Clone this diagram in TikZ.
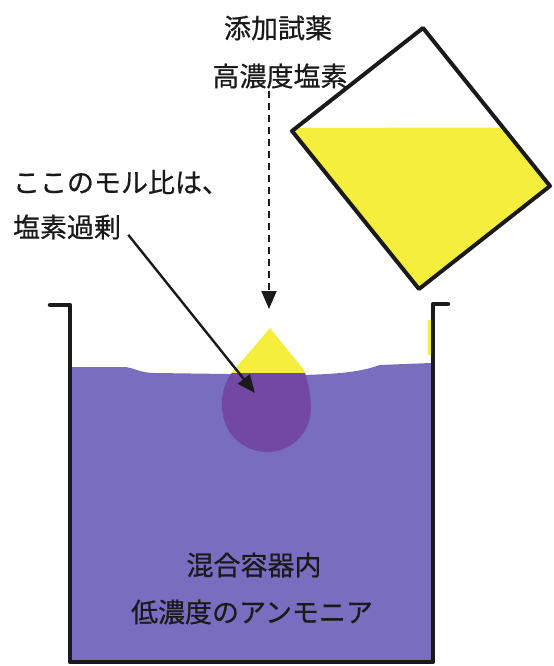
\documentclass[tikz,border=0pt]{standalone}
\usepackage{fontspec}
\setmainfont{Noto Sans CJK JP}[FakeBold=0.6]
\usetikzlibrary{arrows.meta, calc}
\definecolor{cliquid}{HTML}{796DC0}
\definecolor{cdrop}{HTML}{7348A5}
\definecolor{cyellow}{HTML}{F5EE3C}
\definecolor{cink}{HTML}{1A1A1A}
\tikzset{
  every picture/.style={line width=2pt, line join=round},
  label/.style={font=\fontsize{27bp}{32bp}\selectfont, text=cink, inner sep=0pt},
  wall/.style={draw=cink, line width=4.5pt, line cap=round},
  bottle/.style={draw=cink, line width=4pt},
  arrow/.style={-{Triangle[length=18bp, width=15bp]}, draw=cink, line width=2.4pt},
  dasharrow/.style={arrow, dashed, dash pattern=on 7bp off 5bp, line width=2pt},
}

\begin{document}
\begin{tikzpicture}[x=1bp, y=-1bp]
  \useasboundingbox (0,0) rectangle (554,666);
  % reagent bottle, tilted
  \coordinate (btop)   at (423,28);
  \coordinate (bleft)  at (292,131);
  \coordinate (bright) at (550,186);
  \coordinate (bbot)   at (419,289);
  \fill[cyellow] ($(btop)!0.97!(bleft)$) -- (bleft) -- (bbot) -- (bright)
    -- ($(btop)!0.63!(bright)$) -- cycle;
  \draw[bottle] (btop) -- (bleft) -- (bbot) -- (bright) -- cycle;
  % liquid in the vessel
  \fill[cliquid] (72,367) -- (125,367) .. controls (135,368) and (140,373) .. (155,373)
    -- (300,375) .. controls (350,374) and (365,370) .. (380,365)
    -- (431,363) -- (431,660) -- (72,660) -- cycle;
  % drop of chlorine sinking in
  \begin{scope}
    \clip (270,328) -- (234,370) .. controls (224,382) and (221,395) .. (222,408)
      .. controls (224,440) and (250,453) .. (270,452)
      .. controls (295,450) and (312,430) .. (311,405)
      .. controls (310,390) and (307,378) .. (304,370) -- cycle;
    \fill[cyellow] (200,320) rectangle (320,373);
    \fill[cdrop] (200,373) rectangle (320,460);
  \end{scope}
  \draw[cyellow, line width=3pt] (429,320) -- (429,355);
  % vessel walls
  \draw[wall] (50,305) -- (70,305) -- (70,662) -- (433,662) -- (433,304) -- (448,304);
  % labels
  \node[label] (reagent) at (278,28) {添加試薬};
  \node[label] (conc)    at (280,76) {高濃度塩素};
  \node[label, anchor=west] (ratio)  at (12,182) {ここのモル比は、};
  \node[label, anchor=west] (excess) at (12,227) {塩素過剰};
  \node[label] (vessel)  at (254,565) {混合容器内};
  \node[label] (ammonia) at (252,612) {低濃度のアンモニア};
  \coordinate (dropin) at (269,309);
  \coordinate (dropc)  at (255,393);
  \draw[dasharrow] (conc.south -| dropin) ++(0,2) -- (dropin);
  \draw[arrow, shorten <=10bp] (excess.east) -- (dropc);
\end{tikzpicture}
\end{document}
